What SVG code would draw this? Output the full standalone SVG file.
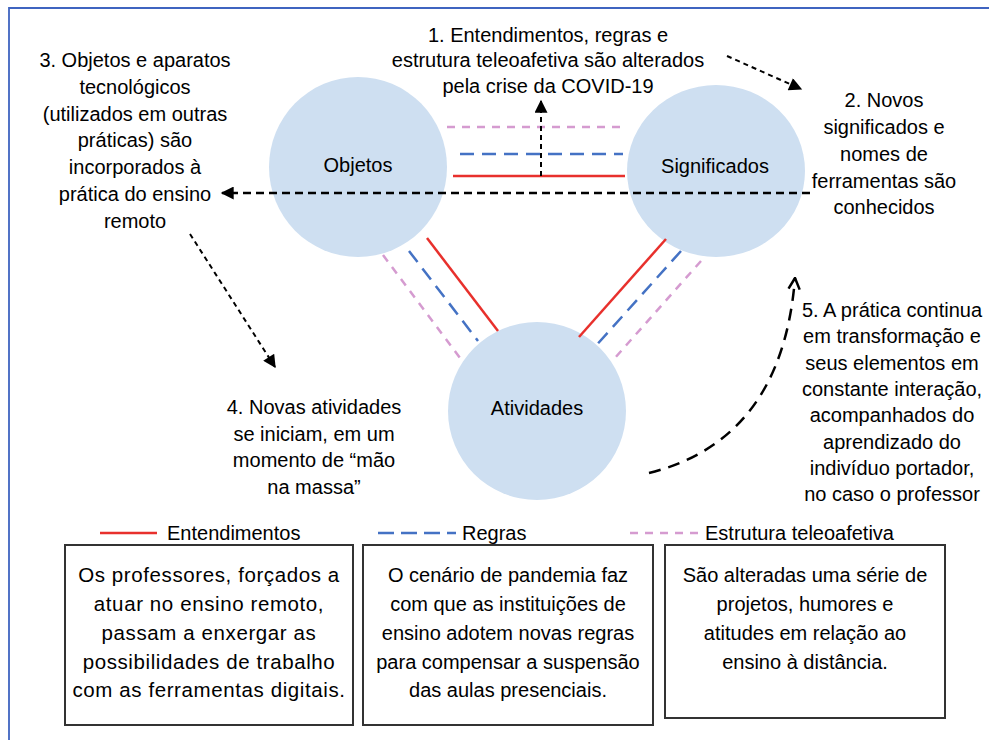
<svg xmlns="http://www.w3.org/2000/svg" width="989" height="740" viewBox="0 0 989 740">
<style>
text{font-family:"Liberation Sans",Arial,sans-serif;font-size:20px;fill:#000;text-anchor:middle}
.circ{fill:#CEDFF1}
.red{stroke:#E8302C;stroke-width:2.5;fill:none}
.blue{stroke:#4472C4;stroke-width:2.5;fill:none;stroke-dasharray:14 8}
.pink{stroke:#D59BD0;stroke-width:2.5;fill:none;stroke-dasharray:8 7}
.blk{stroke:#000;stroke-width:2;fill:none;stroke-dasharray:5 4}
.box{fill:#fff;stroke:#333;stroke-width:2}
.lg{text-anchor:start}
.b1{font-size:20.5px;letter-spacing:0.6px}
</style>
<defs>
<marker id="ah" viewBox="0 0 10 10" refX="9" refY="5" markerWidth="14" markerHeight="13" orient="auto" markerUnits="userSpaceOnUse">
<path d="M0,0L10,5L0,10z" fill="#000"/>
</marker>
<marker id="ao" viewBox="0 0 10 10" refX="9" refY="5" markerWidth="14" markerHeight="14" orient="auto" markerUnits="userSpaceOnUse">
<path d="M1,1L9,5L1,9" fill="none" stroke="#000" stroke-width="1.8"/>
</marker>
</defs>
<g id="frame">
<path d="M9,740V8H989" fill="none" stroke="#3F64C0" stroke-width="1.8"/>
</g>
<g id="node-objetos">
<ellipse class="circ" cx="358" cy="167" rx="89" ry="90"/>
<text x="358" y="172">Objetos</text>
</g>
<g id="node-significados">
<ellipse class="circ" cx="716" cy="171" rx="89" ry="86"/>
<text x="715" y="173">Significados</text>
</g>
<g id="node-atividades">
<circle class="circ" cx="537" cy="411" r="89"/>
<text x="537" y="415">Atividades</text>
</g>
<g id="connectors">
<line class="pink" x1="447" y1="127" x2="625" y2="127"/>
<line class="blue" x1="460" y1="154" x2="623" y2="154"/>
<line class="red" x1="453" y1="176" x2="625" y2="176"/>
<line class="red" x1="427" y1="238" x2="498" y2="331"/>
<line class="blue" x1="409" y1="251" x2="478" y2="341"/>
<line class="pink" x1="383" y1="255" x2="460" y2="358"/>
<line class="red" x1="666" y1="239" x2="579" y2="337"/>
<line class="blue" x1="681" y1="251" x2="593" y2="349"/>
<line class="pink" x1="701" y1="261" x2="614" y2="359"/>
<line class="blk" x1="541" y1="176" x2="541" y2="101" marker-end="url(#ah)"/>
<line x1="810" y1="193" x2="222" y2="193" stroke="#000" stroke-width="2.5" stroke-dasharray="8 5" fill="none" marker-end="url(#ah)"/>
<line class="blk" x1="727" y1="56" x2="801" y2="89" marker-end="url(#ah)"/>
<line class="blk" x1="190" y1="234" x2="275" y2="367" marker-end="url(#ah)"/>
<path d="M649,473Q782,440 795,278" fill="none" stroke="#000" stroke-width="2.5" stroke-dasharray="12 8" marker-end="url(#ao)"/>
</g>
<g id="label-1">
<text x="548" y="42">1. Entendimentos, regras e</text>
<text x="548" y="67">estrutura teleoafetiva são alterados</text>
<text x="548" y="93">pela crise da COVID-19</text>
</g>
<g id="label-3">
<text x="135" y="67">3. Objetos e aparatos</text>
<text x="135" y="94">tecnológicos</text>
<text x="135" y="121">(utilizados em outras</text>
<text x="135" y="147">práticas) são</text>
<text x="135" y="174">incorporados à</text>
<text x="135" y="201">prática do ensino</text>
<text x="135" y="228">remoto</text>
</g>
<g id="label-2">
<text x="884" y="107">2. Novos</text>
<text x="884" y="134">significados e</text>
<text x="884" y="161">nomes de</text>
<text x="884" y="188">ferramentas são</text>
<text x="884" y="214">conhecidos</text>
</g>
<g id="label-5">
<text x="892" y="317">5. A prática continua</text>
<text x="892" y="343">em transformação e</text>
<text x="892" y="370">seus elementos em</text>
<text x="892" y="396">constante interação,</text>
<text x="892" y="422">acompanhados do</text>
<text x="892" y="449">aprendizado do</text>
<text x="892" y="475">indivíduo portador,</text>
<text x="892" y="501">no caso o professor</text>
</g>
<g id="label-4">
<text x="314" y="414">4. Novas atividades</text>
<text x="314" y="441">se iniciam, em um</text>
<text x="314" y="467">momento de “mão</text>
<text x="314" y="494">na massa”</text>
</g>
<g id="legend">
<line class="red" x1="100" y1="533" x2="157" y2="533"/>
<text class="lg" x="167" y="540">Entendimentos</text>
<line class="blue" x1="378" y1="533" x2="456" y2="533" style="stroke-dasharray:16 7"/>
<text class="lg" x="462" y="540">Regras</text>
<line class="pink" x1="630" y1="533" x2="698" y2="533"/>
<text class="lg" x="705" y="540">Estrutura teleoafetiva</text>
</g>
<g id="box-entendimentos">
<rect class="box" x="65" y="545" width="288" height="180"/>
<text class="b1" x="209" y="582">Os professores, forçados a</text>
<text class="b1" x="209" y="611">atuar no ensino remoto,</text>
<text class="b1" x="209" y="640">passam a enxergar as</text>
<text class="b1" x="209" y="669">possibilidades de trabalho</text>
<text class="b1" x="209" y="697">com as ferramentas digitais.</text>
</g>
<g id="box-regras">
<rect class="box" x="363" y="545" width="290" height="180"/>
<text x="508" y="582">O cenário de pandemia faz</text>
<text x="508" y="611">com que as instituições de</text>
<text x="508" y="640">ensino adotem novas regras</text>
<text x="508" y="669">para compensar a suspensão</text>
<text x="508" y="697">das aulas presenciais.</text>
</g>
<g id="box-estrutura">
<rect class="box" x="665" y="545" width="280" height="173"/>
<text x="805" y="582">São alteradas uma série de</text>
<text x="805" y="611">projetos, humores e</text>
<text x="805" y="640">atitudes em relação ao</text>
<text x="805" y="669">ensino à distância.</text>
</g>
</svg>
